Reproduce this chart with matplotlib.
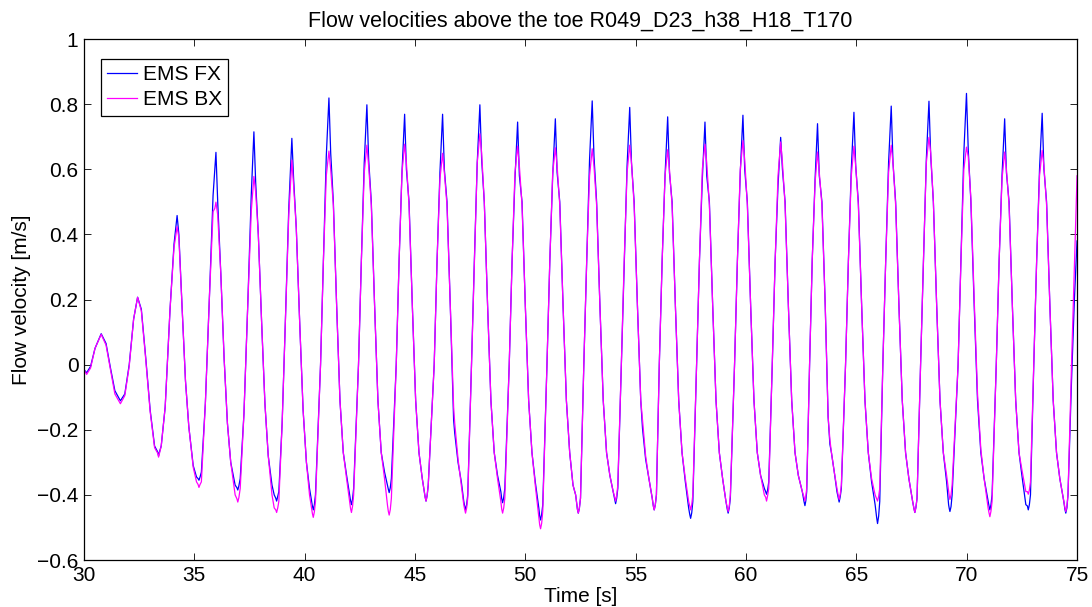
import numpy as np
import matplotlib.pyplot as plt

# time axis shared by both probes [s]
time_s = [
    30.00, 30.12, 30.30, 30.50, 30.78, 31.00, 31.20, 31.40, 31.65, 31.85, 32.05, 32.25, 32.43, 32.60, 32.80, 33.00, 33.20,
    33.34, 33.38, 33.43, 33.50, 33.68, 33.90, 34.08, 34.22, 34.30, 34.45, 34.60, 34.75, 34.95, 35.10,
    35.17, 35.21, 35.26, 35.32, 35.50, 35.68, 35.85, 35.93, 35.98, 36.06, 36.20, 36.35, 36.50, 36.65, 36.85,
    36.93, 36.97, 37.02, 37.08, 37.25, 37.42, 37.58, 37.70, 37.78, 37.90, 38.05, 38.20, 38.35, 38.52, 38.62,
    38.69, 38.73, 38.78, 38.83, 38.98, 39.12, 39.28, 39.42, 39.50, 39.62, 39.78, 39.93, 40.08, 40.22,
    40.35, 40.39, 40.44, 40.49, 40.72, 40.85, 40.98, 41.10, 41.18, 41.30, 41.45, 41.60, 41.75, 41.90, 42.04,
    42.08, 42.12, 42.17, 42.22, 42.44, 42.57, 42.70, 42.82, 42.90, 43.02, 43.17, 43.32, 43.47, 43.62, 43.75,
    43.79, 43.83, 43.88, 43.93, 44.15, 44.28, 44.41, 44.53, 44.61, 44.73, 44.88, 45.03, 45.18, 45.33, 45.42,
    45.46, 45.50, 45.55, 45.60, 45.87, 46.00, 46.13, 46.25, 46.33, 46.45, 46.60, 46.75, 46.80, 46.95, 47.10, 47.21,
    47.25, 47.29, 47.34, 47.39, 47.56, 47.69, 47.82, 47.94, 48.02, 48.14, 48.29, 48.44, 48.59, 48.74, 48.89,
    48.93, 48.97, 49.02, 49.07, 49.27, 49.40, 49.53, 49.65, 49.73, 49.85, 50.00, 50.15, 50.30, 50.45, 50.61,
    50.65, 50.69, 50.74, 50.79, 50.98, 51.11, 51.24, 51.36, 51.44, 51.56, 51.71, 51.86, 52.01, 52.16, 52.28,
    52.36, 52.40, 52.45, 52.50, 52.65, 52.78, 52.91, 53.03, 53.11, 53.23, 53.38, 53.53, 53.68, 53.83, 53.98,
    54.05, 54.09, 54.14, 54.19, 54.35, 54.48, 54.61, 54.73, 54.81, 54.93, 55.08, 55.23, 55.31, 55.45, 55.60, 55.75,
    55.80, 55.84, 55.89, 55.94, 56.07, 56.20, 56.33, 56.45, 56.53, 56.65, 56.80, 56.95, 57.10, 57.25, 57.40,
    57.45, 57.49, 57.54, 57.59, 57.76, 57.89, 58.02, 58.14, 58.22, 58.34, 58.49, 58.64, 58.79, 58.94, 59.09,
    59.15, 59.19, 59.24, 59.29, 59.48, 59.61, 59.74, 59.86, 59.94, 60.06, 60.21, 60.36, 60.51, 60.66, 60.83,
    60.89, 60.93, 60.98, 61.03, 61.19, 61.32, 61.45, 61.57, 61.65, 61.77, 61.92, 62.07, 62.22, 62.37, 62.55,
    62.63, 62.67, 62.71, 62.75, 62.88, 63.00, 63.13, 63.24, 63.32, 63.44, 63.59, 63.72, 63.80, 63.87, 64.00, 64.12,
    64.18, 64.22, 64.27, 64.32, 64.51, 64.64, 64.77, 64.89, 64.97, 65.09, 65.24, 65.39, 65.54, 65.69, 65.85,
    65.92, 65.96, 66.01, 66.06, 66.20, 66.33, 66.46, 66.58, 66.66, 66.78, 66.93, 67.08, 67.23, 67.38, 67.55,
    67.61, 67.65, 67.70, 67.75, 67.91, 68.04, 68.17, 68.29, 68.37, 68.49, 68.64, 68.79, 68.94, 69.09, 69.18,
    69.21, 69.24, 69.29, 69.34, 69.61, 69.74, 69.87, 69.99, 70.07, 70.19, 70.34, 70.49, 70.64, 70.79, 70.97,
    71.01, 71.05, 71.10, 71.15, 71.34, 71.47, 71.60, 71.72, 71.80, 71.92, 72.07, 72.22, 72.37, 72.52, 72.68,
    72.75, 72.79, 72.84, 72.89, 73.04, 73.17, 73.30, 73.42, 73.50, 73.62, 73.77, 73.92, 74.07, 74.22, 74.40,
    74.45, 74.49, 74.54, 74.59, 74.75, 74.88, 75.00,
]

# EMS FX [m/s]
ems_fx = [
    -0.015, -0.025, -0.005, 0.050, 0.095, 0.065, -0.010, -0.080, -0.111, -0.090, 0.000, 0.140, 0.207, 0.170, 0.020, -0.140, -0.250,
    -0.268, -0.280, -0.266, -0.250, -0.130, 0.170, 0.370, 0.458, 0.400, 0.170, -0.050, -0.190, -0.310, -0.345,
    -0.350, -0.355, -0.345, -0.330, -0.120, 0.200, 0.520, 0.600, 0.652, 0.500, 0.280, 0.020, -0.180, -0.300, -0.370,
    -0.378, -0.385, -0.372, -0.350, -0.150, 0.180, 0.520, 0.715, 0.560, 0.400, 0.130, -0.120, -0.280, -0.370, -0.400,
    -0.410, -0.419, -0.405, -0.390, -0.180, 0.120, 0.480, 0.695, 0.570, 0.420, 0.120, -0.140, -0.300, -0.380,
    -0.434, -0.446, -0.430, -0.400, 0.000, 0.320, 0.640, 0.819, 0.650, 0.500, 0.180, -0.110, -0.270, -0.340, -0.400,
    -0.418, -0.430, -0.413, -0.380, 0.000, 0.320, 0.620, 0.798, 0.630, 0.500, 0.180, -0.110, -0.270, -0.330, -0.370,
    -0.382, -0.393, -0.378, -0.350, 0.000, 0.320, 0.590, 0.769, 0.600, 0.500, 0.180, -0.110, -0.270, -0.350, -0.390,
    -0.407, -0.419, -0.402, -0.370, 0.000, 0.320, 0.590, 0.769, 0.600, 0.500, 0.180, -0.170, -0.210, -0.300, -0.360, -0.420,
    -0.434, -0.446, -0.430, -0.400, 0.000, 0.320, 0.620, 0.798, 0.630, 0.500, 0.180, -0.110, -0.270, -0.340, -0.390,
    -0.412, -0.424, -0.408, -0.380, 0.000, 0.320, 0.570, 0.745, 0.580, 0.500, 0.180, -0.110, -0.270, -0.360, -0.440,
    -0.465, -0.477, -0.460, -0.430, 0.000, 0.320, 0.580, 0.755, 0.590, 0.500, 0.180, -0.110, -0.270, -0.370, -0.400,
    -0.444, -0.456, -0.440, -0.410, 0.000, 0.320, 0.630, 0.810, 0.640, 0.500, 0.180, -0.110, -0.270, -0.340, -0.390,
    -0.415, -0.427, -0.410, -0.380, 0.000, 0.320, 0.610, 0.790, 0.620, 0.500, 0.180, -0.110, -0.196, -0.290, -0.350, -0.410,
    -0.434, -0.446, -0.430, -0.400, 0.000, 0.320, 0.580, 0.761, 0.590, 0.500, 0.180, -0.110, -0.270, -0.360, -0.440,
    -0.460, -0.472, -0.455, -0.420, 0.000, 0.320, 0.570, 0.745, 0.580, 0.500, 0.180, -0.110, -0.270, -0.350, -0.420,
    -0.444, -0.456, -0.440, -0.410, 0.000, 0.320, 0.590, 0.766, 0.600, 0.500, 0.180, -0.110, -0.270, -0.340, -0.380,
    -0.390, -0.398, -0.385, -0.360, 0.000, 0.320, 0.550, 0.698, 0.600, 0.500, 0.180, -0.110, -0.270, -0.340, -0.390,
    -0.421, -0.433, -0.418, -0.390, 0.000, 0.320, 0.570, 0.740, 0.580, 0.500, 0.180, -0.160, -0.244, -0.270, -0.330, -0.390,
    -0.410, -0.422, -0.405, -0.380, 0.000, 0.320, 0.600, 0.775, 0.610, 0.500, 0.180, -0.110, -0.270, -0.360, -0.430,
    -0.470, -0.488, -0.465, -0.420, 0.000, 0.320, 0.620, 0.794, 0.620, 0.500, 0.180, -0.110, -0.270, -0.350, -0.420,
    -0.442, -0.454, -0.438, -0.410, 0.000, 0.320, 0.630, 0.809, 0.640, 0.500, 0.180, -0.110, -0.270, -0.360, -0.430,
    -0.442, -0.451, -0.436, -0.400, 0.000, 0.320, 0.650, 0.833, 0.660, 0.500, 0.180, -0.110, -0.270, -0.350, -0.420,
    -0.434, -0.446, -0.430, -0.400, 0.000, 0.320, 0.580, 0.755, 0.590, 0.500, 0.180, -0.110, -0.270, -0.350, -0.430,
    -0.434, -0.446, -0.430, -0.400, 0.000, 0.320, 0.600, 0.772, 0.600, 0.500, 0.180, -0.110, -0.270, -0.350, -0.420,
    -0.444, -0.456, -0.440, -0.400, -0.050, 0.200, 0.380,
]

# EMS BX [m/s]
ems_bx = [
    -0.015, -0.030, -0.010, 0.050, 0.093, 0.060, -0.015, -0.090, -0.120, -0.095, -0.005, 0.140, 0.207, 0.165, 0.015, -0.145, -0.255,
    -0.272, -0.284, -0.270, -0.250, -0.130, 0.170, 0.360, 0.424, 0.390, 0.170, -0.050, -0.190, -0.315, -0.360,
    -0.368, -0.377, -0.368, -0.360, -0.120, 0.200, 0.470, 0.480, 0.499, 0.460, 0.280, 0.020, -0.180, -0.300, -0.400,
    -0.412, -0.422, -0.408, -0.380, -0.150, 0.180, 0.470, 0.578, 0.530, 0.400, 0.130, -0.120, -0.280, -0.400, -0.440,
    -0.446, -0.454, -0.440, -0.420, -0.180, 0.120, 0.460, 0.628, 0.550, 0.420, 0.120, -0.140, -0.300, -0.400,
    -0.457, -0.469, -0.452, -0.420, 0.000, 0.320, 0.580, 0.656, 0.600, 0.490, 0.180, -0.110, -0.270, -0.350, -0.420,
    -0.442, -0.454, -0.435, -0.400, 0.000, 0.320, 0.590, 0.674, 0.610, 0.490, 0.180, -0.110, -0.270, -0.350, -0.430,
    -0.450, -0.462, -0.445, -0.410, 0.000, 0.320, 0.590, 0.677, 0.620, 0.490, 0.180, -0.110, -0.270, -0.350, -0.390,
    -0.407, -0.419, -0.402, -0.370, 0.000, 0.320, 0.570, 0.649, 0.590, 0.490, 0.180, -0.130, -0.180, -0.290, -0.370, -0.430,
    -0.444, -0.456, -0.440, -0.410, 0.000, 0.320, 0.620, 0.709, 0.650, 0.500, 0.180, -0.110, -0.270, -0.350, -0.420,
    -0.444, -0.456, -0.440, -0.410, 0.000, 0.320, 0.590, 0.671, 0.610, 0.490, 0.180, -0.110, -0.270, -0.370, -0.470,
    -0.492, -0.504, -0.487, -0.450, 0.000, 0.320, 0.590, 0.666, 0.610, 0.490, 0.180, -0.110, -0.270, -0.370, -0.400,
    -0.444, -0.456, -0.440, -0.410, 0.000, 0.320, 0.580, 0.663, 0.610, 0.490, 0.180, -0.110, -0.270, -0.340, -0.390,
    -0.407, -0.419, -0.402, -0.370, 0.000, 0.320, 0.590, 0.674, 0.620, 0.490, 0.180, -0.110, -0.170, -0.280, -0.350, -0.410,
    -0.434, -0.446, -0.430, -0.400, 0.000, 0.320, 0.580, 0.660, 0.600, 0.490, 0.180, -0.110, -0.270, -0.350, -0.420,
    -0.434, -0.446, -0.430, -0.400, 0.000, 0.320, 0.600, 0.677, 0.620, 0.490, 0.180, -0.110, -0.270, -0.350, -0.420,
    -0.439, -0.451, -0.435, -0.400, 0.000, 0.320, 0.600, 0.688, 0.630, 0.490, 0.180, -0.110, -0.270, -0.340, -0.400,
    -0.407, -0.419, -0.402, -0.380, 0.000, 0.320, 0.580, 0.684, 0.620, 0.490, 0.180, -0.110, -0.270, -0.340, -0.390,
    -0.407, -0.419, -0.404, -0.380, 0.000, 0.320, 0.560, 0.653, 0.590, 0.490, 0.180, -0.160, -0.230, -0.270, -0.330, -0.380,
    -0.402, -0.414, -0.398, -0.370, 0.000, 0.320, 0.580, 0.671, 0.610, 0.490, 0.180, -0.110, -0.270, -0.350, -0.400,
    -0.412, -0.419, -0.405, -0.380, 0.000, 0.320, 0.590, 0.674, 0.620, 0.490, 0.180, -0.110, -0.270, -0.350, -0.420,
    -0.442, -0.454, -0.438, -0.410, 0.000, 0.320, 0.620, 0.698, 0.650, 0.500, 0.180, -0.110, -0.270, -0.340, -0.390,
    -0.404, -0.414, -0.400, -0.370, 0.000, 0.320, 0.600, 0.668, 0.640, 0.510, 0.200, -0.090, -0.260, -0.350, -0.440,
    -0.455, -0.467, -0.450, -0.420, 0.000, 0.320, 0.570, 0.653, 0.600, 0.490, 0.180, -0.110, -0.270, -0.330, -0.390,
    -0.390, -0.398, -0.385, -0.360, 0.000, 0.320, 0.580, 0.658, 0.610, 0.490, 0.180, -0.110, -0.270, -0.350, -0.420,
    -0.439, -0.451, -0.435, -0.400, 0.000, 0.300, 0.580,
]

y_ticks = [-0.6, -0.4, -0.2, 0, 0.2, 0.4, 0.6, 0.8, 1]
y_tick_labels = ['\u22120.6', '\u22120.4', '\u22120.2', '0', '0.2', '0.4', '0.6', '0.8', '1']
x_ticks = [30, 35, 40, 45, 50, 55, 60, 65, 70, 75]

plt.rcParams['font.family'] = ['Liberation Sans', 'DejaVu Sans']
plt.rcParams['font.size'] = 15

fig = plt.figure(figsize=(10.92, 6.07), dpi=100)
ax = fig.add_axes([0.0769, 0.0774, 0.9094, 0.8583])

ax.plot(time_s, ems_fx, color='#0000ff', linewidth=0.9, label='EMS FX')
ax.plot(time_s, ems_bx, color='#ff00ff', linewidth=0.9, label='EMS BX')

ax.set_xlim(30, 75)
ax.set_ylim(-0.6, 1)
ax.set_xticks(x_ticks)
ax.set_yticks(y_ticks)
ax.set_yticklabels(y_tick_labels)
ax.tick_params(direction='in', top=True, right=True, length=5, width=0.6, pad=4)
for sp in ax.spines.values():
    sp.set_linewidth(0.9)

ax.set_title('Flow velocities above the toe R049_D23_h38_H18_T170', fontsize=15.5, pad=9)
ax.set_xlabel('Time [s]', labelpad=2)
ax.set_ylabel('Flow velocity [m/s]', labelpad=4)

leg = ax.legend(loc='upper left', bbox_to_anchor=(0.017, 0.962), borderaxespad=0,
                fancybox=False, edgecolor='black', framealpha=1, handlelength=1.45,
                handletextpad=0.25, borderpad=0.3, labelspacing=0.3)
leg.get_frame().set_linewidth(0.9)

fig.savefig('out.png', dpi=100)
